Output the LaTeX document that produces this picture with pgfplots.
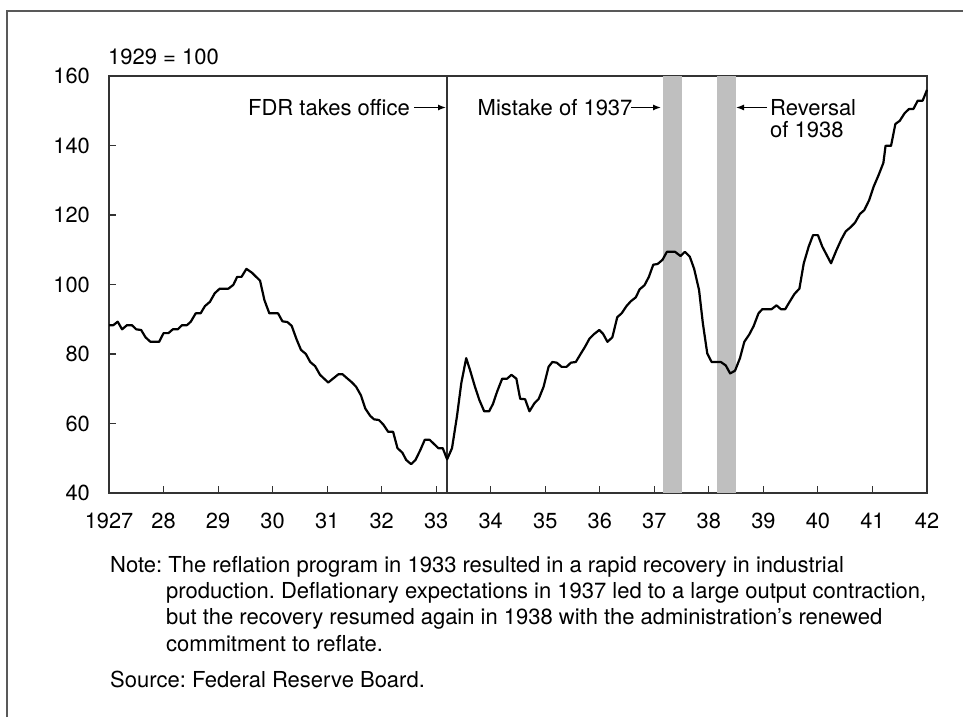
\documentclass[border=0pt]{standalone}
\usepackage{pgfplots}
\pgfplotsset{compat=1.18}
\usepackage{fontspec}
\setmainfont{TeX Gyre Heros}
\usetikzlibrary{arrows.meta}
\frenchspacing
\begin{document}
\begin{tikzpicture}[x=1pt,y=1pt]
\path[use as bounding box] (0,0) rectangle (963,717);
\draw[black!65, line width=1.6pt] (7,0) -- (7,706) -- (963,706);
\begin{axis}[
  at={(109pt,224pt)}, anchor=south west,
  width=818pt, height=417pt, scale only axis,
  xmin=1927, xmax=1942, ymin=40, ymax=160,
  xtick={1927,1928,...,1942},
  xticklabels={1927,28,29,30,31,32,33,34,35,36,37,38,39,40,41,42},
  ytick={40,60,...,160},
  tick align=inside, xtick pos=bottom, ytick pos=left,
  major tick length=7pt,
  axis line style={black!80, line width=1.3pt},
  every tick/.style={black!80, line width=1.1pt},
  /pgf/number format/assume math mode=true,
  ticklabel style={font=\fontsize{21.8}{25}\selectfont},
  yticklabel style={inner sep=0pt, xshift=-19pt},
  xticklabel style={inner sep=0pt, yshift=-20pt},
  clip=false,
]
\fill[black!25] (axis cs:1937.15,40) rectangle (axis cs:1937.5,160);
\fill[black!25] (axis cs:1938.14,40) rectangle (axis cs:1938.49,160);
\draw[black!80, line width=1.3pt] (axis cs:1933.2,40) -- (axis cs:1933.2,160);
\addplot[black, line width=2.2pt, line join=round, mark=none] coordinates {
(1927.00,88.3) (1927.08,88.3) (1927.16,89.3) (1927.24,87.1) (1927.33,88.3) (1927.42,88.3)
(1927.50,87.1) (1927.59,86.9) (1927.67,84.8) (1927.76,83.5) (1927.92,83.5)
(1928.00,86.0) (1928.09,86.0) (1928.17,87.1) (1928.26,87.1) (1928.34,88.3) (1928.43,88.3)
(1928.50,89.3) (1928.59,91.7) (1928.68,91.7) (1928.76,93.8) (1928.85,95.0) (1928.94,97.5)
(1929.03,98.8) (1929.19,98.8) (1929.28,99.9) (1929.35,102.2) (1929.43,102.2) (1929.52,104.5)
(1929.62,103.4) (1929.77,101.1) (1929.85,95.5) (1929.94,91.7)
(1930.10,91.7) (1930.18,89.4) (1930.27,89.2) (1930.35,88.1) (1930.44,84.2) (1930.52,81.2)
(1930.61,80.0) (1930.69,77.7) (1930.78,76.5) (1930.87,74.0)
(1931.02,71.8) (1931.21,74.2) (1931.28,74.2) (1931.36,73.1) (1931.45,71.9) (1931.53,70.6)
(1931.62,68.1) (1931.70,64.3) (1931.79,62.2) (1931.86,61.2) (1931.95,61.0)
(1932.03,59.7) (1932.12,57.6) (1932.21,57.6) (1932.29,52.9) (1932.38,51.6) (1932.45,49.5)
(1932.54,48.3) (1932.62,49.5) (1932.71,52.4) (1932.79,55.3) (1932.88,55.3) (1932.96,54.1)
(1933.04,52.9) (1933.12,52.9) (1933.20,49.7) (1933.29,52.9) (1933.38,62.0) (1933.46,71.6)
(1933.55,78.8) (1933.62,75.4) (1933.71,70.6) (1933.79,66.8) (1933.88,63.5) (1933.97,63.5)
(1934.04,65.6) (1934.12,69.3) (1934.21,72.9) (1934.30,72.9) (1934.38,74.0) (1934.47,72.9)
(1934.54,67.1) (1934.63,67.0) (1934.71,63.5) (1934.80,65.8) (1934.88,67.1) (1934.97,70.6)
(1935.06,76.3) (1935.13,77.7) (1935.21,77.5) (1935.30,76.3) (1935.39,76.3) (1935.47,77.5)
(1935.56,77.7) (1935.64,79.8) (1935.73,82.1) (1935.81,84.4) (1935.90,85.8) (1935.99,86.9)
(1936.06,85.8) (1936.14,83.5) (1936.23,84.8) (1936.32,90.6) (1936.40,91.7) (1936.49,93.8)
(1936.57,95.2) (1936.66,96.3) (1936.73,98.6) (1936.82,99.8) (1936.90,102.2) (1936.98,105.7)
(1937.06,105.9) (1937.15,107.1) (1937.23,109.4) (1937.38,109.4) (1937.48,108.2) (1937.56,109.4)
(1937.65,108.0) (1937.73,104.5) (1937.82,98.4) (1937.89,88.8) (1937.97,80.2)
(1938.05,77.7) (1938.22,77.7) (1938.31,76.7) (1938.39,74.4) (1938.48,75.2) (1938.57,78.8)
(1938.65,83.5) (1938.74,85.6) (1938.82,88.0) (1938.91,91.7) (1938.98,92.9)
(1939.15,92.9) (1939.24,94.0) (1939.32,92.9) (1939.40,92.9) (1939.48,95.0) (1939.57,97.3)
(1939.66,98.8) (1939.74,106.1) (1939.83,110.9) (1939.91,114.2) (1940.00,114.2)
(1940.08,110.9) (1940.24,106.1) (1940.34,109.9) (1940.43,113.0) (1940.51,115.3) (1940.60,116.5)
(1940.68,117.8) (1940.77,120.3) (1940.85,121.4) (1940.94,124.3)
(1941.02,128.1) (1941.11,131.4) (1941.20,135.0) (1941.24,139.9) (1941.34,139.9) (1941.42,146.2)
(1941.50,147.1) (1941.59,149.3) (1941.67,150.5) (1941.75,150.5) (1941.83,152.9) (1941.92,152.9)
(1942.00,156.0)
};
\end{axis}
\begin{scope}[every node/.style={inner sep=0pt, font=\fontsize{22}{26}\selectfont}]
\node[anchor=base west] at (108,652) {1929 = 100};
\node[anchor=base east] at (410,601.5) {FDR takes office};
\draw[black, line width=1.3pt, -{Latex[length=8pt,width=6pt]}] (414,609.5) -- (446,609.5);
\node[anchor=base west] at (477.5,601.5) {Mistake of 1937};
\draw[black, line width=1.3pt, -{Latex[length=8pt,width=6pt]}] (631,609.5) -- (661,609.5);
\draw[black, line width=1.3pt, -{Latex[length=8pt,width=6pt]}] (767,609.5) -- (736,609.5);
\node[anchor=base west] at (770,601.5) {Reversal};
\node[anchor=base west] at (770,579) {of 1938};
\node[anchor=base west] at (110,144.3) {Note: The reflation program in 1933 resulted in a rapid recovery in industrial};
\node[anchor=base west] at (166,118.5) {production. Deflationary expectations in 1937 led to a large output contraction,};
\node[anchor=base west] at (166,92) {but the recovery resumed again in 1938 with the administration’s renewed};
\node[anchor=base west] at (166,65.2) {commitment to reflate.};
\node[anchor=base west] at (110,30) {Source: Federal Reserve Board.};
\end{scope}
\end{tikzpicture}
\end{document}
